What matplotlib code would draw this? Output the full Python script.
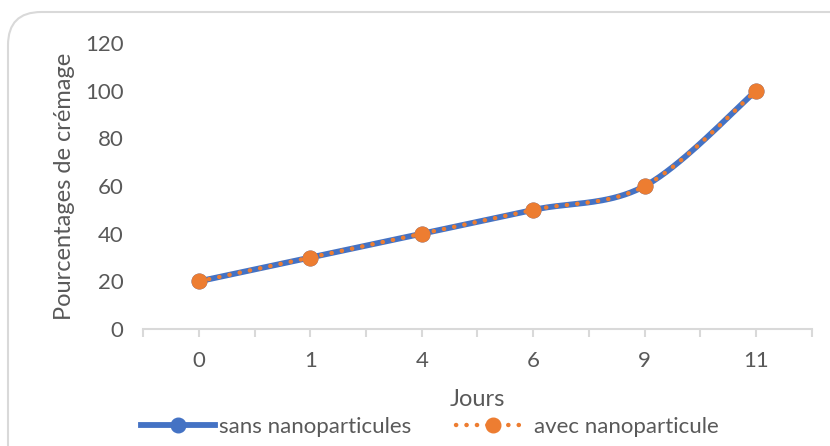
import numpy as np
import matplotlib
matplotlib.use("Agg")
import matplotlib.pyplot as plt
from matplotlib.patches import FancyBboxPatch

plt.rcParams['font.family'] = ['Lato', 'DejaVu Sans']

jours = ['0', '1', '4', '6', '9', '11']
sans_nano = [20, 30, 40, 50, 60, 100]
avec_nano = [20, 30, 40, 50, 60, 100]

BLUE = '#4472C4'
ORANGE = '#ED7D31'
GREY = '#595959'
AXIS = '#D9D9D9'
DOTS = (0, (0.05, 2.3))


def smooth(xs, ys, n=40, tension=0.5):
    # Catmull-Rom style smoothing between consecutive points
    xs = np.asarray(xs, float)
    ys = np.asarray(ys, float)
    px = np.concatenate([[xs[0]], xs, [xs[-1]]])
    py = np.concatenate([[ys[0]], ys, [ys[-1]]])
    outx, outy = [], []
    t = np.linspace(0, 1, n)
    for i in range(1, len(px) - 2):
        p0, p1, p2, p3 = (np.array([px[j], py[j]]) for j in range(i - 1, i + 3))
        c1 = p1 + (p2 - p0) * tension / 3
        c2 = p2 - (p3 - p1) * tension / 3
        b = ((1 - t) ** 3)[:, None] * p1 + (3 * (1 - t) ** 2 * t)[:, None] * c1 \
            + (3 * (1 - t) * t ** 2)[:, None] * c2 + (t ** 3)[:, None] * p2
        outx.extend(b[:, 0])
        outy.extend(b[:, 1])
    return np.array(outx), np.array(outy)


fig = plt.figure(figsize=(8.3, 4.46), dpi=100)
ax = fig.add_axes([0.1723, 0.2623, 0.806, 0.6413])

x = np.arange(len(jours))
sx, sy = smooth(x, sans_nano)
ax.plot(sx, sy, color=BLUE, lw=4.2, solid_capstyle='round', zorder=2)
ax.plot(x, sans_nano, 'o', color=BLUE, ms=10.5, zorder=2)
ax.plot(sx, smooth(x, avec_nano)[1], color=ORANGE, lw=3.2,
        linestyle=DOTS, dash_capstyle='round', zorder=3)
ax.plot(x, avec_nano, 'o', color=ORANGE, ms=10.5, zorder=4)

# legend proxies
h1, = ax.plot([], [], color=BLUE, lw=4.2, marker='o', ms=10.5)
h2, = ax.plot([], [], color=ORANGE, lw=3.2, linestyle=DOTS,
              dash_capstyle='round', marker='o', ms=10.5)

ax.set_xlim(-0.5, len(jours) - 0.5)
ax.set_ylim(0, 120)
ax.set_yticks(range(0, 121, 20))
ax.set_xticks(x)
ax.set_xticklabels(jours)
ax.set_xticks(np.arange(-0.5, len(jours), 1.0), minor=True)

for s in ['top', 'right', 'left']:
    ax.spines[s].set_visible(False)
ax.spines['bottom'].set_color(AXIS)
ax.spines['bottom'].set_linewidth(1.5)
ax.tick_params(axis='x', which='both', direction='out', length=6, width=1.5,
               color=AXIS, labelsize=16, labelcolor=GREY, pad=10)
ax.tick_params(axis='y', length=0, labelsize=16, labelcolor=GREY, pad=14)

ax.set_xlabel('Jours', fontsize=17, color=GREY, labelpad=13)
ax.set_ylabel('Pourcentages de crémage', fontsize=17, color=GREY, labelpad=7)

fig.legend([h1, h2], ['sans nanoparticules', 'avec nanoparticule'],
           loc='lower center', bbox_to_anchor=(0.518, -0.025), ncol=2,
           frameon=False, fontsize=16, labelcolor=GREY, handlelength=3.3,
           handletextpad=0.2, columnspacing=2.0)

frame = FancyBboxPatch((8 / 830, -0.1), 1.1, 1.1 - 12 / 446,
                       boxstyle='round,pad=0,rounding_size=0.04',
                       transform=fig.transFigure, fc='none', ec=AXIS, lw=1.5,
                       mutation_aspect=830 / 446)
fig.patches.append(frame)

fig.savefig('out.png', dpi=100)
